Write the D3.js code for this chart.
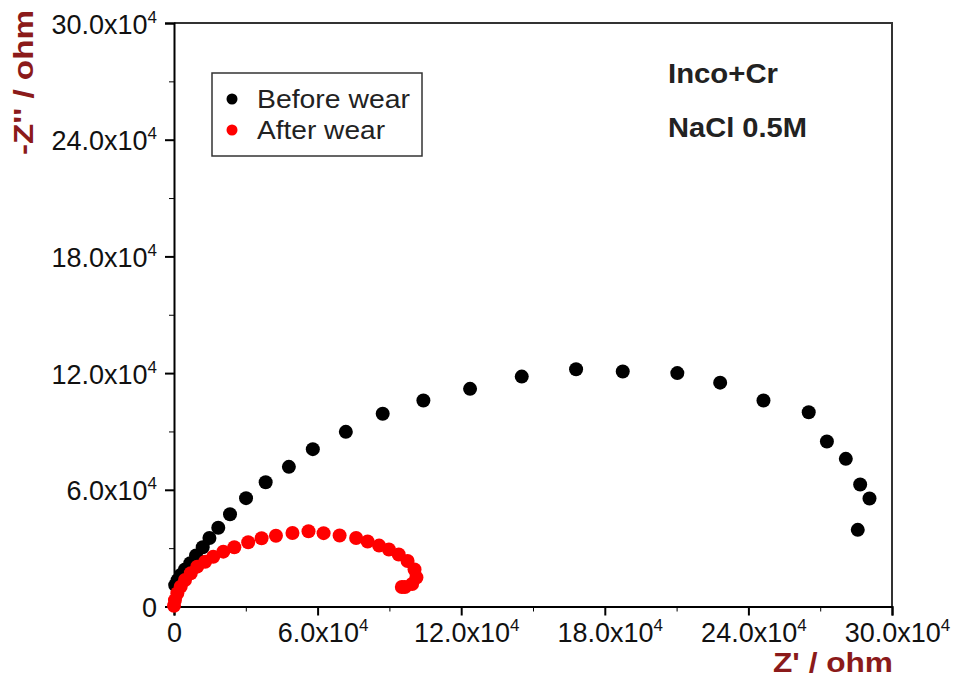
<!DOCTYPE html>
<meta charset="utf-8">
<head>
  <title>Inco+Cr Nyquist plot</title>
  <style>
    body { margin: 0; background: #fff; }
    svg text { font-family: "Liberation Sans", Arial, sans-serif; }
  </style>
</head>
<body>
<script src="https://d3js.org/d3.v7.min.js"></script>
<div id="chart"></div>
<script>

// values in units of 1e4 ohm: [Z', -Z'']
var beforeWear = [
  [0.05, 1.10], [0.15, 1.35], [0.28, 1.62], [0.46, 1.90], [0.68, 2.22],
  [0.92, 2.62], [1.20, 3.05], [1.48, 3.52], [1.85, 4.05], [2.34, 4.74],
  [3.01, 5.57], [3.83, 6.39], [4.80, 7.18], [5.80, 8.09], [7.18, 8.98],
  [8.72, 9.91], [10.42, 10.59], [12.37, 11.19], [14.53, 11.82], [16.80, 12.20],
  [18.75, 12.08], [21.03, 12.00], [22.82, 11.51], [24.63, 10.59], [26.52, 9.99],
  [27.28, 8.48], [28.07, 7.59], [28.67, 6.27], [29.06, 5.55], [28.57, 3.94]
];

var afterWear = [
  [0.00, 0.04], [0.04, 0.33], [0.14, 0.68], [0.28, 1.02], [0.46, 1.36],
  [0.70, 1.71], [0.97, 2.05], [1.30, 2.30], [1.64, 2.56], [2.06, 2.82],
  [2.52, 3.05], [3.10, 3.30], [3.66, 3.51], [4.26, 3.64], [4.95, 3.78],
  [5.62, 3.87], [6.25, 3.77], [6.92, 3.65], [7.61, 3.52], [8.09, 3.34],
  [8.57, 3.13], [8.98, 2.93], [9.39, 2.67], [9.76, 2.34], [10.05, 1.90],
  [10.13, 1.49], [9.95, 1.16], [9.65, 1.00], [9.52, 1.00]
];

var majorTicks = [0, 6, 12, 18, 24, 30];
var minorTicks = [3, 9, 15, 21, 27];
var seriesNames = ["Before wear", "After wear"];
var seriesColors = ["#000000", "#ff0000"];
var noteLines = ["Inco+Cr", "NaCl 0.5M"];

var width = 958, height = 678;
var plotLeft = 174, plotRight = 892, plotTop = 23, plotBottom = 606.5;
var labelRed = "#8b1a1a";

var svg = d3.select("#chart").append("svg")
    .attr("width", width)
    .attr("height", height);

var x = d3.scaleLinear().domain([0, 30]).range([plotLeft, plotRight]);
var y = d3.scaleLinear().domain([0, 30]).range([plotBottom, plotTop]);

// frame (top + right)
svg.append("path")
    .attr("d", "M" + plotLeft + "," + plotTop + "H" + plotRight + "V" + plotBottom)
    .attr("fill", "none")
    .attr("stroke", "#333")
    .attr("stroke-width", 2);

// minor ticks
svg.append("g")
    .attr("transform", "translate(0," + plotBottom + ")")
    .call(d3.axisBottom(x).tickValues(minorTicks).tickSize(5).tickFormat(""))
    .call(function(g) { g.select(".domain").remove(); });
svg.append("g")
    .attr("transform", "translate(" + plotLeft + ",0)")
    .call(d3.axisLeft(y).tickValues(minorTicks).tickSize(5).tickFormat(""))
    .call(function(g) { g.select(".domain").remove(); });

function fmt(d) { return d === 0 ? "0" : d.toFixed(1) + "x10"; }

function addSup(sel) {
  sel.filter(function(d) { return d !== 0; })
    .append("tspan")
      .attr("dy", -11)
      .attr("font-size", 17)
      .text("4");
}

var xAxis = svg.append("g")
    .attr("transform", "translate(0," + plotBottom + ")")
    .call(d3.axisBottom(x).tickValues(majorTicks).tickSize(9).tickFormat(fmt));
xAxis.selectAll("text")
    .attr("y", 35).attr("dy", 0)
    .attr("dx", function(d) { return d === 0 ? 0 : 5; })
    .attr("font-size", 27)
    .attr("fill", "#111")
    .call(addSup);

var yAxis = svg.append("g")
    .attr("transform", "translate(" + plotLeft + ",0)")
    .call(d3.axisLeft(y).tickValues(majorTicks).tickSize(9).tickFormat(fmt));
yAxis.selectAll("text")
    .attr("x", -17).attr("y", 10).attr("dy", 0)
    .attr("font-size", 27)
    .attr("fill", "#111")
    .call(addSup);

[xAxis, yAxis].forEach(function(a) {
  a.selectAll(".domain, line").attr("stroke", "#000").attr("stroke-width", 2);
});

// points
var series = [beforeWear, afterWear];
var radius = [7, 7];
series.forEach(function(data, i) {
  svg.append("g").selectAll("circle")
    .data(data)
    .enter().append("circle")
      .attr("cx", function(d) { return x(d[0]); })
      .attr("cy", function(d) { return y(d[1]); })
      .attr("r", radius[i])
      .attr("fill", seriesColors[i]);
});

// axis titles
svg.append("text")
    .attr("x", 773).attr("y", 672)
    .attr("font-size", 27).attr("font-weight", "bold")
    .attr("textLength", 120).attr("lengthAdjust", "spacingAndGlyphs")
    .attr("fill", labelRed)
    .text("Z' / ohm");

svg.append("text")
    .attr("transform", "translate(33,155) rotate(-90)")
    .attr("font-size", 28).attr("font-weight", "bold")
    .attr("textLength", 145).attr("lengthAdjust", "spacingAndGlyphs")
    .attr("fill", labelRed)
    .text("-Z'' / ohm");

// legend
var legend = svg.append("g");
legend.append("rect")
    .attr("x", 212).attr("y", 73)
    .attr("width", 210).attr("height", 83)
    .attr("fill", "#fff")
    .attr("stroke", "#333")
    .attr("stroke-width", 1.5);
var legendWidths = [153, 128];
seriesNames.forEach(function(name, i) {
  var cy = 99 + i * 31;
  legend.append("circle")
      .attr("cx", 232).attr("cy", cy).attr("r", 5.5)
      .attr("fill", seriesColors[i]);
  legend.append("text")
      .attr("x", 257).attr("y", cy + 8.5)
      .attr("font-size", 25)
      .attr("textLength", legendWidths[i]).attr("lengthAdjust", "spacingAndGlyphs")
      .attr("fill", "#222")
      .text(name);
});

// note
var noteWidths = [110, 139];
noteLines.forEach(function(t, i) {
  svg.append("text")
      .attr("x", 668).attr("y", 83 + i * 53.5)
      .attr("font-size", 27).attr("font-weight", "bold")
      .attr("textLength", noteWidths[i]).attr("lengthAdjust", "spacingAndGlyphs")
      .attr("fill", "#222")
      .text(t);
});

</script>
</body>
